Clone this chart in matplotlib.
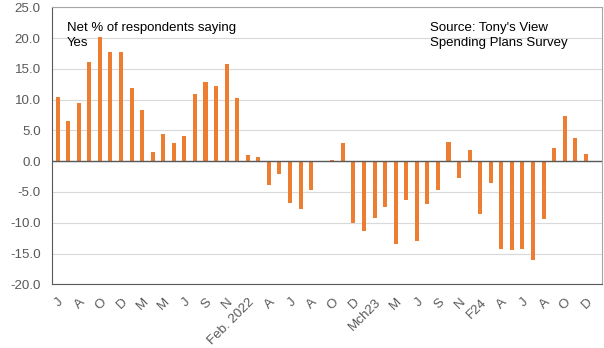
import numpy as np
import matplotlib.pyplot as plt

plt.rcParams['font.family'] = ['Liberation Sans', 'DejaVu Sans']

# net % of respondents saying yes, monthly
values = [10.4, 6.5, 9.4, 16.1, 20.2, 17.7, 17.7, 11.9, 8.3, 1.5,
          4.4, 2.9, 4.1, 10.9, 12.8, 12.2, 15.8, 10.2, 1.0, 0.7,
          -3.9, -2.1, -6.8, -7.8, -4.6, -0.2, 0.2, 2.9, -10.1, -11.3,
          -9.2, -7.4, -13.4, -6.3, -13.0, -6.9, -4.6, 3.1, -2.8, 1.8,
          -8.5, -3.5, -14.3, -14.4, -14.3, -16.0, -9.4, 2.1, 7.3, 3.7,
          1.1]
tick_labels = ["J", "A", "O", "D", "M", "M", "J", "S", "N", "Feb. 2022",
               "A", "J", "A", "O", "D", "Mch23", "M", "J", "S", "N",
               "F24", "A", "J", "A", "O", "D"]
yticks = [-20, -15, -10, -5, 0, 5, 10, 15, 20, 25]

fig = plt.figure(figsize=(6.04, 3.48), dpi=100)
ax = fig.add_axes([0.0866, 0.183, 0.9096, 0.796])

x = np.arange(len(values))
ax.bar(x, values, width=0.38, color='#ED7D31', zorder=3)

ax.set_xlim(-0.5, 51.5)
ax.set_ylim(-20, 25)
ax.set_yticks(yticks)
ax.set_yticklabels([f"{v:.1f}" for v in yticks])
ax.set_xticks(x[::2])
ax.set_xticklabels(tick_labels, rotation=45, ha='right', rotation_mode='anchor')

ax.grid(axis='y', color='#D9D9D9', linewidth=0.8, zorder=0)
ax.axhline(0, color='#595959', linewidth=1.0, zorder=4)
ax.tick_params(axis='both', length=0, labelsize=9.6, colors='#595959')
ax.tick_params(axis='y', pad=8.4)
ax.tick_params(axis='x', pad=8.5)

for side in ['top', 'right']:
    ax.spines[side].set_color('#A6A6A6')
for side in ['left', 'bottom']:
    ax.spines[side].set_color('#595959')

ax.text(0.026, 0.948, "Net % of respondents saying\nYes", transform=ax.transAxes,
        fontsize=9.5, va='top', ha='left', linespacing=1.4)
ax.text(0.687, 0.948, "Source: Tony's View\nSpending Plans Survey", transform=ax.transAxes,
        fontsize=9.5, va='top', ha='left', linespacing=1.4)

fig.savefig("out.png", dpi=100)
